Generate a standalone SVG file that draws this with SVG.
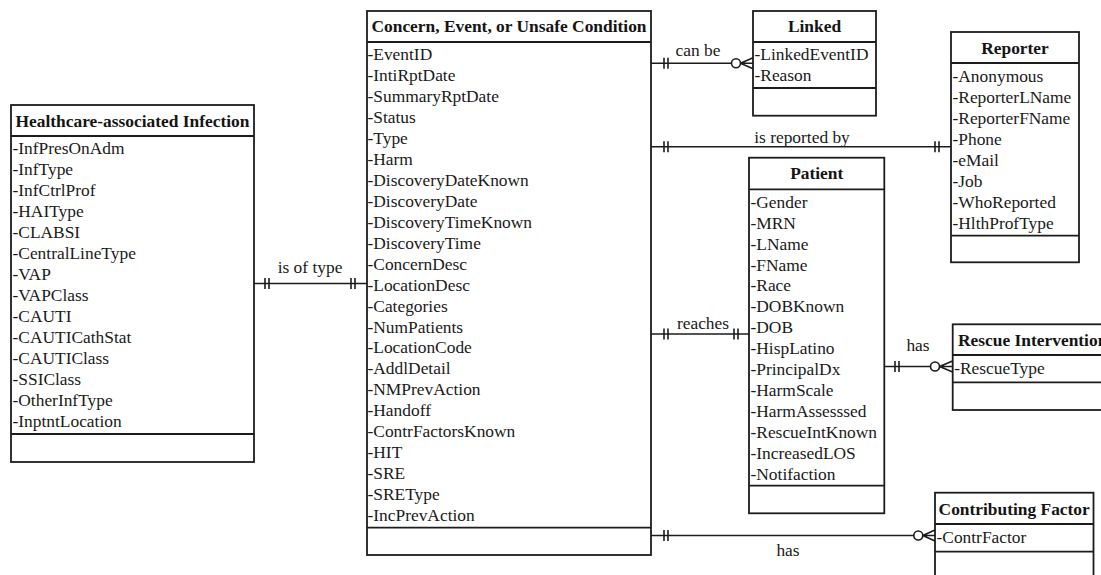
<svg xmlns="http://www.w3.org/2000/svg" width="1101" height="575" viewBox="0 0 1101 575">
  <style>
    .box { fill: #ffffff; stroke: #1c1c1c; stroke-width: 1.8; }
    .div { stroke: #1c1c1c; stroke-width: 1.8; fill: none; }
    .hdr { font-family: "Liberation Serif", "Times New Roman", serif; font-size: 17.4px; font-weight: bold; fill: #141414; text-anchor: middle; }
    .attr { font-family: "Liberation Serif", "Times New Roman", serif; font-size: 17.4px; fill: #1a1a1a; }
    .lbl { font-family: "Liberation Serif", "Times New Roman", serif; font-size: 17.4px; fill: #1a1a1a; text-anchor: middle; }
    .rel { stroke: #1c1c1c; stroke-width: 1.6; fill: none; }
    .zero { stroke: #1c1c1c; stroke-width: 1.6; fill: #ffffff; }
  </style>

  <rect width="1101" height="575" fill="#ffffff"/>

  <!-- relationship lines -->
  <g id="connectors">
    <!-- HAI : Concern (one-and-only-one both ends) -->
    <path class="rel" d="M254,283.5 H367 M265,278 V289 M269,278 V289 M351,278 V289 M355,278 V289"/>
    <text class="lbl" x="310" y="272.5">is of type</text>

    <!-- Concern : Linked (one to zero-or-many) -->
    <path class="rel" d="M651,63.3 H731.5 M664,57.8 V68.8 M668,57.8 V68.8 M740.5,63.3 H753 M740.5,63.3 L753,57.8 M740.5,63.3 L753,68.8"/>
    <circle class="zero" cx="736" cy="63.3" r="4.5"/>
    <text class="lbl" x="698" y="56">can be</text>

    <!-- Concern : Reporter -->
    <path class="rel" d="M651,146.7 H951 M664,141.2 V152.2 M668,141.2 V152.2 M935,141.2 V152.2 M939,141.2 V152.2"/>
    <text class="lbl" x="802" y="142.5">is reported by</text>

    <!-- Concern : Patient -->
    <path class="rel" d="M651,334 H749 M664,328.5 V339.5 M668,328.5 V339.5 M734,328.5 V339.5 M738,328.5 V339.5"/>
    <text class="lbl" x="703" y="329">reaches</text>

    <!-- Patient : Rescue Intervention -->
    <path class="rel" d="M884.3,366.5 H930.5 M895,361 V372 M899,361 V372 M939.5,366.5 H952.7 M939.5,366.5 L952.7,361 M939.5,366.5 L952.7,372"/>
    <circle class="zero" cx="935" cy="366.5" r="4.5"/>
    <text class="lbl" x="918" y="351">has</text>

    <!-- Concern : Contributing Factor -->
    <path class="rel" d="M651,535.5 H913.8 M664,530 V541 M668,530 V541 M922.8,535.5 H935 M922.8,535.5 L935,530 M922.8,535.5 L935,541"/>
    <circle class="zero" cx="918.3" cy="535.5" r="4.5"/>
    <text class="lbl" x="788" y="556">has</text>
  </g>

  <!-- Healthcare-associated Infection -->
  <g id="hai">
    <rect class="box" x="11" y="105" width="243" height="357"/>
    <path class="div" d="M11,136 H254 M11,434 H254"/>
    <text class="hdr" x="132.5" y="126.7">Healthcare-associated Infection</text>
    <text class="attr" y="154.3">
      <tspan x="12.5">-InfPresOnAdm</tspan>
      <tspan x="12.5" dy="20.94">-InfType</tspan>
      <tspan x="12.5" dy="20.94">-InfCtrlProf</tspan>
      <tspan x="12.5" dy="20.94">-HAIType</tspan>
      <tspan x="12.5" dy="20.94">-CLABSI</tspan>
      <tspan x="12.5" dy="20.94">-CentralLineType</tspan>
      <tspan x="12.5" dy="20.94">-VAP</tspan>
      <tspan x="12.5" dy="20.94">-VAPClass</tspan>
      <tspan x="12.5" dy="20.94">-CAUTI</tspan>
      <tspan x="12.5" dy="20.94">-CAUTICathStat</tspan>
      <tspan x="12.5" dy="20.94">-CAUTIClass</tspan>
      <tspan x="12.5" dy="20.94">-SSIClass</tspan>
      <tspan x="12.5" dy="20.94">-OtherInfType</tspan>
      <tspan x="12.5" dy="20.94">-InptntLocation</tspan>
    </text>
  </g>

  <!-- Concern, Event, or Unsafe Condition -->
  <g id="concern">
    <rect class="box" x="367" y="11" width="284" height="544"/>
    <path class="div" d="M367,42 H651 M367,527.7 H651"/>
    <text class="hdr" x="509" y="32">Concern, Event, or Unsafe Condition</text>
    <text class="attr" y="60.3">
      <tspan x="367.5">-EventID</tspan>
      <tspan x="367.5" dy="20.94">-IntiRptDate</tspan>
      <tspan x="367.5" dy="20.94">-SummaryRptDate</tspan>
      <tspan x="367.5" dy="20.94">-Status</tspan>
      <tspan x="367.5" dy="20.94">-Type</tspan>
      <tspan x="367.5" dy="20.94">-Harm</tspan>
      <tspan x="367.5" dy="20.94">-DiscoveryDateKnown</tspan>
      <tspan x="367.5" dy="20.94">-DiscoveryDate</tspan>
      <tspan x="367.5" dy="20.94">-DiscoveryTimeKnown</tspan>
      <tspan x="367.5" dy="20.94">-DiscoveryTime</tspan>
      <tspan x="367.5" dy="20.94">-ConcernDesc</tspan>
      <tspan x="367.5" dy="20.94">-LocationDesc</tspan>
      <tspan x="367.5" dy="20.94">-Categories</tspan>
      <tspan x="367.5" dy="20.94">-NumPatients</tspan>
      <tspan x="367.5" dy="20.94">-LocationCode</tspan>
      <tspan x="367.5" dy="20.94">-AddlDetail</tspan>
      <tspan x="367.5" dy="20.94">-NMPrevAction</tspan>
      <tspan x="367.5" dy="20.94">-Handoff</tspan>
      <tspan x="367.5" dy="20.94">-ContrFactorsKnown</tspan>
      <tspan x="367.5" dy="20.94">-HIT</tspan>
      <tspan x="367.5" dy="20.94">-SRE</tspan>
      <tspan x="367.5" dy="20.94">-SREType</tspan>
      <tspan x="367.5" dy="20.94">-IncPrevAction</tspan>
    </text>
  </g>

  <!-- Linked -->
  <g id="linked">
    <rect class="box" x="753" y="11" width="123" height="104.7"/>
    <path class="div" d="M753,42 H876 M753,88 H876"/>
    <text class="hdr" x="814.5" y="32">Linked</text>
    <text class="attr" y="60.3">
      <tspan x="754.5">-LinkedEventID</tspan>
      <tspan x="754.5" dy="20.94">-Reason</tspan>
    </text>
  </g>

  <!-- Reporter -->
  <g id="reporter">
    <rect class="box" x="951" y="32" width="128" height="230.3"/>
    <path class="div" d="M951,63 H1079 M951,235.7 H1079"/>
    <text class="hdr" x="1015" y="53.7">Reporter</text>
    <text class="attr" y="82">
      <tspan x="952.5">-Anonymous</tspan>
      <tspan x="952.5" dy="20.94">-ReporterLName</tspan>
      <tspan x="952.5" dy="20.94">-ReporterFName</tspan>
      <tspan x="952.5" dy="20.94">-Phone</tspan>
      <tspan x="952.5" dy="20.94">-eMail</tspan>
      <tspan x="952.5" dy="20.94">-Job</tspan>
      <tspan x="952.5" dy="20.94">-WhoReported</tspan>
      <tspan x="952.5" dy="20.94">-HlthProfType</tspan>
    </text>
  </g>

  <!-- Patient -->
  <g id="patient">
    <rect class="box" x="749" y="157.7" width="135.3" height="355.6"/>
    <path class="div" d="M749,189.3 H884.3 M749,485.7 H884.3"/>
    <text class="hdr" x="816.7" y="179.3">Patient</text>
    <text class="attr" y="207.7">
      <tspan x="750.5">-Gender</tspan>
      <tspan x="750.5" dy="20.94">-MRN</tspan>
      <tspan x="750.5" dy="20.94">-LName</tspan>
      <tspan x="750.5" dy="20.94">-FName</tspan>
      <tspan x="750.5" dy="20.94">-Race</tspan>
      <tspan x="750.5" dy="20.94">-DOBKnown</tspan>
      <tspan x="750.5" dy="20.94">-DOB</tspan>
      <tspan x="750.5" dy="20.94">-HispLatino</tspan>
      <tspan x="750.5" dy="20.94">-PrincipalDx</tspan>
      <tspan x="750.5" dy="20.94">-HarmScale</tspan>
      <tspan x="750.5" dy="20.94">-HarmAssesssed</tspan>
      <tspan x="750.5" dy="20.94">-RescueIntKnown</tspan>
      <tspan x="750.5" dy="20.94">-IncreasedLOS</tspan>
      <tspan x="750.5" dy="20.94">-Notifaction</tspan>
    </text>
  </g>

  <!-- Rescue Intervention (runs past the right edge) -->
  <g id="rescue">
    <rect class="box" x="952.7" y="324.3" width="160" height="85.7"/>
    <path class="div" d="M952.7,355 H1112.7 M952.7,382.3 H1112.7"/>
    <text class="hdr" x="1032.7" y="346">Rescue Intervention</text>
    <text class="attr" y="374.3">
      <tspan x="954.2">-RescueType</tspan>
    </text>
  </g>

  <!-- Contributing Factor (runs past the bottom edge) -->
  <g id="contributing">
    <rect class="box" x="935" y="492.7" width="158.5" height="90"/>
    <path class="div" d="M935,524 H1093.5 M935,551.7 H1093.5"/>
    <text class="hdr" x="1014.2" y="515">Contributing Factor</text>
    <text class="attr" y="542.7">
      <tspan x="936.5">-ContrFactor</tspan>
    </text>
  </g>
</svg>
